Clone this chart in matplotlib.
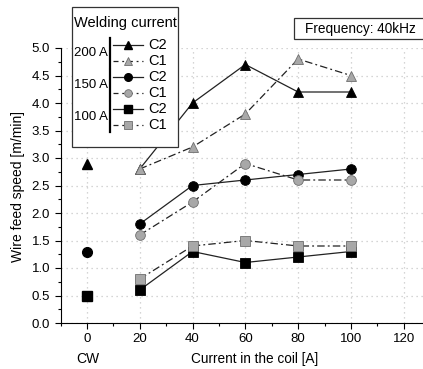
""" Wire feed speed vs coil current """

import matplotlib
matplotlib.use('Agg')
import matplotlib.pyplot as plt
from matplotlib.lines import Line2D
from matplotlib.patches import Rectangle
from matplotlib.ticker import MultipleLocator

plt.rcParams['font.family'] = ['Liberation Sans', 'DejaVu Sans']

currents = [20, 40, 60, 80, 100]
cw_x = 0

c2_200 = [2.8, 4.0, 4.7, 4.2, 4.2]
c1_200 = [2.8, 3.2, 3.8, 4.8, 4.5]
c2_150 = [1.8, 2.5, 2.6, 2.7, 2.8]
c1_150 = [1.6, 2.2, 2.9, 2.6, 2.6]
c2_100 = [0.6, 1.3, 1.1, 1.2, 1.3]
c1_100 = [0.8, 1.4, 1.5, 1.4, 1.4]

cw_200 = 2.9
cw_150 = 1.3
cw_100 = 0.5

W, H = 423, 369
BLACK = '#000000'
GRAY = '#a8a8a8'
GRAY_EDGE = '#6e6e6e'


def fx(px):
    return px / W


def fy(py):
    return 1 - py / H


fig = plt.figure(figsize=(W / 100, H / 100), dpi=100)
ax = fig.add_axes([fx(60.5), fy(323), 1 - fx(60.5), fy(48) - fy(323)])

series = [
    (c2_200, cw_200, '^', True),
    (c1_200, None, '^', False),
    (c2_150, cw_150, 'o', True),
    (c1_150, None, 'o', False),
    (c2_100, cw_100, 's', True),
    (c1_100, None, 's', False),
]

for values, cw, marker, dark in series:
    if dark:
        style = dict(color='#222222', linestyle='-', marker=marker,
                     mfc=BLACK, mec=BLACK)
    else:
        style = dict(color='#222222', linestyle=(0, (6, 2.5, 1.5, 2.5)),
                     marker=marker, mfc=GRAY, mec=GRAY_EDGE)
    ax.plot(currents, values, lw=0.9, ms=7, mew=0.6, zorder=3, **style)
    if cw is not None:
        ax.plot([cw_x], [cw], marker=marker, ms=7, mfc=BLACK, mec=BLACK,
                linestyle='none', zorder=3)

ax.set_xlim(-10, 127.3)
ax.set_ylim(0, 5.0)
ax.xaxis.set_major_locator(MultipleLocator(20))
ax.xaxis.set_minor_locator(MultipleLocator(10))
ax.yaxis.set_major_locator(MultipleLocator(0.5))
ax.yaxis.set_minor_locator(MultipleLocator(0.25))
ax.yaxis.set_major_formatter(matplotlib.ticker.FormatStrFormatter('%.1f'))
ax.tick_params(which='major', direction='out', length=4, width=0.8,
               labelsize=9.5)
ax.tick_params(which='minor', direction='out', length=2.5, width=0.8)
ax.spines['top'].set_visible(False)
ax.spines['right'].set_visible(False)
ax.grid(True, which='major', color='#c8c8c8', linestyle=(0, (1, 3)), lw=0.9)
ax.set_axisbelow(True)

fig.text(fx(18), fy(187), 'Wire feed speed [m/min]', fontsize=10,
         rotation=90, ha='center', va='center')
fig.text(fx(255), fy(359), 'Current in the coil [A]', fontsize=9.8,
         ha='center', va='center')
fig.text(fx(88), fy(359), 'CW', fontsize=10, ha='center', va='center')

# legend drawn by hand
fig.patches.append(Rectangle((fx(72), fy(147)), fx(178) - fx(72),
                             fy(7) - fy(147), transform=fig.transFigure,
                             fill=True, fc='white', ec='#333333', lw=0.9,
                             zorder=5))
fig.text(fx(125), fy(23), 'Welding current', fontsize=10.5, ha='center',
         va='center', zorder=6)

group_labels = ['200 A', '150 A', '100 A']
markers = ['^', 'o', 's']
row_y = [45, 61, 77, 93, 109, 125]
for i, label in enumerate(group_labels):
    y2 = row_y[2 * i]
    y1 = row_y[2 * i + 1]
    fig.text(fx(91), fy((y1 + y2) / 2), label, fontsize=9.5, ha='center',
             va='center', zorder=6)
    fig.lines.append(Line2D([fx(110), fx(110)], [fy(y2 - 7), fy(y1 + 7)],
                            transform=fig.transFigure, color=BLACK, lw=1.6,
                            zorder=6))
    fig.lines.append(Line2D([fx(113), fx(143)], [fy(y2), fy(y2)],
                            transform=fig.transFigure, color='#222222',
                            lw=0.9, zorder=6))
    fig.lines.append(Line2D([fx(128)], [fy(y2)], transform=fig.transFigure,
                            marker=markers[i], ms=5.5, mfc=BLACK, mec=BLACK,
                            linestyle='none', zorder=7))
    fig.text(fx(148), fy(y2), 'C2', fontsize=10.5, ha='left', va='center',
             zorder=6)
    fig.lines.append(Line2D([fx(113), fx(143)], [fy(y1), fy(y1)],
                            transform=fig.transFigure, color='#222222',
                            lw=0.9, linestyle=(0, (4, 3, 1.5, 3)),
                            zorder=6))
    fig.lines.append(Line2D([fx(128)], [fy(y1)], transform=fig.transFigure,
                            marker=markers[i], ms=5.5, mfc=GRAY,
                            mec=GRAY_EDGE, mew=0.6, linestyle='none',
                            zorder=7))
    fig.text(fx(148), fy(y1), 'C1', fontsize=10.5, ha='left', va='center',
             zorder=6)

# frequency box
fig.patches.append(Rectangle((fx(294), fy(39)), fx(440) - fx(294),
                             fy(18) - fy(39), transform=fig.transFigure,
                             fill=True, fc='white', ec='#333333', lw=0.9,
                             zorder=5))
fig.text(fx(305), fy(28.5), 'Frequency: 40kHz', fontsize=9.8, ha='left',
         va='center', zorder=6)

fig.savefig('out.png', dpi=100)
